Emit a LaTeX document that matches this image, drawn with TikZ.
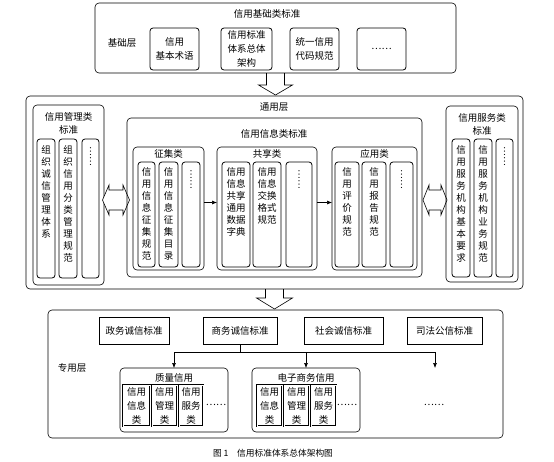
\documentclass[tikz,border=0pt]{standalone}
\usepackage{fontspec}
\setmainfont{Noto Sans CJK SC}
\usetikzlibrary{arrows.meta,calc}
\newcommand\bx[7][]{\node[box,#1,minimum width={(#4-#2)*1pt},minimum height={(#5-#3)*1pt}] (#6) at ({(#2+#4)/2},{(#3+#5)/2}) {#7};}
\tikzset{
  x=1pt,y=-1pt,
  box/.style={draw,inner sep=0pt,outer sep=0pt,align=center,font=\fontsize{9.5}{14}\selectfont},
  ob/.style={rounded corners=4pt,line width=0.6pt},
  cb/.style={rounded corners=3pt,line width=0.8pt},
  sq/.style={line width=0.8pt},
  dbl/.style={line width=0.5pt,double,double distance=0.7pt},
  tx/.style={font=\fontsize{9.5}{13}\selectfont,align=center,inner sep=0pt},
  vt/.style={font=\fontsize{9.5}{12}\selectfont,align=center,inner sep=0pt,anchor=north},
  vd/.style={font=\fontsize{9}{12}\selectfont,rotate=90,anchor=east,inner sep=0pt},
  hol/.style={line width=0.6pt,line join=miter},
  ar/.style={line width=0.6pt,-{Latex[length=5pt,width=4pt]}},
}
\begin{document}
\begin{tikzpicture}
\useasboundingbox (0,0) rectangle (554,461);
% ---------- 基础层
\bx[ob]{95}{3}{456}{73}{top}{}
\node[tx] (toptitle) at (267,14) {信用基础类标准};
\node[tx] (toplab) at (122,43) {基础层};
\bx[cb]{150}{28}{199}{70}{t1}{信用\\基本术语}
\bx[cb]{221}{28}{272}{70}{t2}{信用标准\\体系总体\\架构}
\bx[cb]{290}{28}{339}{70}{t3}{统一信用\\代码规范}
\bx[cb]{357}{28}{406}{70}{t4}{……}
\draw[hol] (top.south) +(-9,0) -- +(-9,12) -- +(-17,12) -- +(0,22) -- +(17,12) -- +(9,12) -- +(9,0);
% ---------- 通用层
\bx[ob]{26}{96}{523}{289}{tong}{}
\node[tx] (tonglab) at (274,107) {通用层};
% 管理类
\bx[ob]{33}{105}{104}{285}{gl}{}
\node[tx] (glt) at (68.5,123.5) {信用管理类\\标准};
\bx[cb]{37}{139}{55}{278}{g1}{}
\bx[cb]{59}{139}{77}{278}{g2}{}
\bx[cb]{82}{139}{99}{278}{g3}{}
\node[vt] (g1t) at ($(g1.north)+(0,6)$) {组\\织\\诚\\信\\管\\理\\体\\系};
\node[vt] (g2t) at ($(g2.north)+(0,6)$) {组\\织\\信\\用\\分\\类\\管\\理\\规\\范};
\node[vd] (g3t) at ($(g3.north)+(0,8)$) {……};
% double arrow left
\coordinate (dl) at (116,200);
\draw[hol,fill=white] (dl) +(-13.5,0) -- +(-7,-15) -- +(-7,-10) -- +(7,-10) -- +(7,-15) -- +(13.5,0) -- +(7,15) -- +(7,10) -- +(-7,10) -- +(-7,15) -- cycle;
% 信息类
\bx[ob]{127}{118}{422}{277}{xx}{}
\node[tx] (xxt) at (274,134) {信用信息类标准};
\bx[ob]{133}{147}{204}{270}{zj}{}
\node[tx] (zjt) at (168.5,154) {征集类};
\bx[cb]{138}{162}{155}{267}{z1}{}
\bx[cb]{159}{162}{178}{267}{z2}{}
\bx[cb]{182}{162}{200}{267}{z3}{}
\node[vt] (z1t) at ($(z1.north)+(0,5)$) {信\\用\\信\\息\\征\\集\\规\\范};
\node[vt] (z2t) at ($(z2.north)+(0,5)$) {信\\用\\信\\息\\征\\集\\目\\录};
\node[vd] (z3t) at ($(z3.north)+(0,8)$) {……};
\bx[ob]{217}{147}{317}{270}{gx}{}
\node[tx] (gxt) at (267,154) {共享类};
\bx[cb]{222}{162}{250}{267}{s1}{}
\bx[cb]{253}{162}{281}{267}{s2}{}
\bx[cb]{286}{162}{312}{267}{s3}{}
\node[vt] (s1t) at ($(s1.north)+(0,5)$) {信用\\信息\\共享\\通用\\数据\\字典};
\node[vt] (s2t) at ($(s2.north)+(0,5)$) {信用\\信息\\交换\\格式\\规范};
\node[vd] (s3t) at ($(s3.north)+(0,8)$) {……};
\bx[ob]{332}{147}{417}{270}{yy}{}
\node[tx] (yyt) at (374.5,154) {应用类};
\bx[cb]{335}{162}{359}{267}{y1}{}
\bx[cb]{362}{162}{386}{267}{y2}{}
\bx[cb]{390}{162}{413}{267}{y3}{}
\node[vt] (y1t) at ($(y1.north)+(0,5)$) {信\\用\\评\\价\\规\\范};
\node[vt] (y2t) at ($(y2.north)+(0,5)$) {信\\用\\报\\告\\规\\范};
\node[vd] (y3t) at ($(y3.north)+(0,8)$) {……};
\draw[ar] ([yshift=6pt]zj.east) -- ([yshift=6pt]gx.west);
\draw[ar] ([yshift=6pt]gx.east) -- ([yshift=6pt]yy.west);
% double arrow right
\coordinate (dr) at (435,200);
\draw[hol,fill=white] (dr) +(-12,0) -- +(-6,-15) -- +(-6,-10) -- +(6,-10) -- +(6,-15) -- +(12,0) -- +(6,15) -- +(6,10) -- +(-6,10) -- +(-6,15) -- cycle;
% 服务类
\bx[ob]{446}{106}{518}{282}{fw}{}
\node[tx] (fwt) at (482,124) {信用服务类\\标准};
\bx[cb]{452}{139}{470}{277}{f1}{}
\bx[cb]{474}{139}{492}{277}{f2}{}
\bx[cb]{496}{139}{513}{277}{f3}{}
\node[vt] (f1t) at ($(f1.north)+(0,6)$) {信\\用\\服\\务\\机\\构\\基\\本\\要\\求};
\node[vt] (f2t) at ($(f2.north)+(0,6)$) {信\\用\\服\\务\\机\\构\\业\\务\\规\\范};
\node[vd] (f3t) at ($(f3.north)+(0,8)$) {……};
% arrow down
\draw[hol] (tong.south) +(-9,0) -- +(-9,9) -- +(-18,9) -- +(0,20) -- +(18,9) -- +(9,9) -- +(9,0);
% ---------- 专用层
\bx[ob]{48}{310}{503}{438}{zy}{}
\node[tx] (zylab) at (72,368) {专用层};
\bx[sq]{99}{317}{169}{344}{zw}{政务诚信标准}
\bx[sq]{203}{317}{277}{344}{sw}{商务诚信标准}
\bx[sq]{304}{317}{383}{344}{sh}{社会诚信标准}
\bx[sq]{407}{317}{482}{344}{sf}{司法公信标准}
\bx[ob]{120}{368}{228}{432}{zl}{}
\node[tx] (zlt) at (174,378) {质量信用};
\bx[dbl]{123}{385}{150}{426}{q1}{信用\\信息\\类}
\bx[dbl]{152}{385}{177}{426}{q2}{信用\\管理\\类}
\bx[dbl]{179}{385}{203}{426}{q3}{信用\\服务\\类}
\node[tx] (qd) at (216,405) {……};
\bx[ob]{252}{368}{360}{432}{dz}{}
\node[tx] (dzt) at (306,378) {电子商务信用};
\bx[dbl]{257}{385}{282}{426}{e1}{信用\\信息\\类}
\bx[dbl]{284}{385}{309}{426}{e2}{信用\\管理\\类}
\bx[dbl]{311}{385}{336}{426}{e3}{信用\\服务\\类}
\node[tx] (ed) at (347,405) {……};
\node[tx] (fd) at (434,405) {……};
\coordinate (fe) at (435,368);
\draw[line width=0.6pt] (sw.south) -- ++(0,8) coordinate (br);
\draw[line width=0.6pt] (zl.north |- br) -- (fe |- br);
\draw[ar] (zl.north |- br) -- (zl.north);
\draw[ar] (dz.north |- br) -- (dz.north);
\draw[ar] (fe |- br) -- (fe);
% caption
\node[font=\fontsize{8.7}{10}\selectfont,inner sep=0pt] (cap) at (273,453) {图 1\quad 信用标准体系总体架构图};
\end{tikzpicture}
\end{document}
